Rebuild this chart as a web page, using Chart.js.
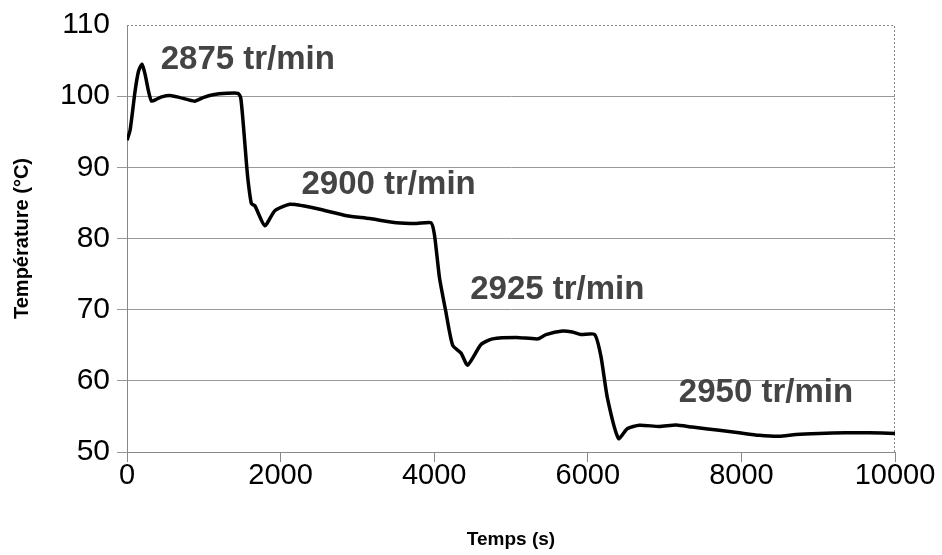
<!DOCTYPE html>
<html>
<head>
<meta charset="utf-8">
<script src="https://cdn.jsdelivr.net/npm/chart.js@4/dist/chart.umd.min.js"></script>
<style>
  html, body { margin: 0; padding: 0; background: #fff; }
</style>
</head>
<body>
<canvas id="chart" width="942" height="555"></canvas>
<script>
// Temps (s) and température (°C)
const times = [0, 40, 105, 150, 195, 235, 280, 320, 390, 450, 560, 690, 880, 990, 1120, 1300, 1445,
  1480, 1510, 1555, 1580, 1620, 1665, 1795, 1925, 2120, 2290, 2510, 2860, 3160, 3510, 3770, 3960,
  4005, 4070, 4150, 4240, 4350, 4435, 4610, 4760, 5070, 5350, 5455, 5670, 5800, 5910, 6090,
  6170, 6257, 6400, 6517, 6670, 6930, 7150, 7360, 7710, 7970, 8230, 8490, 8710, 9010, 9360, 9660, 10000];
const temps = [93.8, 95.2, 100.7, 103.5, 104.5, 103.1, 100.7, 99.3, 99.6, 99.9, 100.1, 99.8, 99.3, 99.8, 100.2, 100.4, 100.4,
  99.8, 96.6, 90.6, 87.8, 84.9, 84.6, 81.8, 83.9, 84.8, 84.6, 84.1, 83.2, 82.8, 82.2, 82.1, 82.2,
  80.4, 74.4, 69.8, 65.0, 63.9, 62.2, 65.1, 65.9, 66.1, 65.9, 66.5, 67.0, 66.85, 66.5, 66.5,
  63.5, 57.5, 51.9, 53.3, 53.75, 53.6, 53.8, 53.5, 53.05, 52.7, 52.35, 52.2, 52.45, 52.6, 52.7, 52.7, 52.6];

// speed annotations (text, anchor time, anchor temperature)
const speedLabels = ['2875 tr/min', '2900 tr/min', '2925 tr/min', '2950 tr/min'];
const speedLabelTimes = [1573, 3406, 5603, 8320];
const speedLabelTemps = [105.1, 87.6, 72.8, 58.3];

const FONT = '"Liberation Sans", Arial, sans-serif';

const speedLabelPlugin = {
  id: 'speedLabels',
  afterDatasetsDraw(chart) {
    const {ctx, scales: {x, y}} = chart;
    ctx.save();
    ctx.font = 'bold 33px ' + FONT;
    ctx.fillStyle = '#444';
    ctx.textAlign = 'center';
    ctx.textBaseline = 'middle';
    speedLabels.forEach((txt, i) => {
      ctx.fillText(txt, x.getPixelForValue(speedLabelTimes[i]), y.getPixelForValue(speedLabelTemps[i]));
    });
    ctx.restore();
  }
};

// dotted frame on top and right of the plot area
const framePlugin = {
  id: 'frame',
  beforeDatasetsDraw(chart) {
    const {ctx, chartArea: a} = chart;
    ctx.save();
    ctx.strokeStyle = '#888';
    ctx.lineWidth = 1;
    ctx.setLineDash([2, 2]);
    ctx.beginPath();
    ctx.moveTo(a.left, a.top + 0.5);
    ctx.lineTo(a.right - 0.5, a.top + 0.5);
    ctx.lineTo(a.right - 0.5, a.bottom);
    ctx.stroke();
    ctx.restore();
  }
};

new Chart(document.getElementById('chart'), {
  type: 'line',
  data: {
    datasets: [{
      data: times.map((t, i) => ({x: t, y: temps[i]})),
      borderColor: '#000',
      borderWidth: 3.5,
      pointRadius: 0,
      tension: 0.2,
      fill: false
    }]
  },
  options: {
    responsive: false,
    animation: false,
    layout: { padding: { top: 20, right: 47, left: 0, bottom: 0 } },
    plugins: { legend: { display: false }, tooltip: { enabled: false } },
    scales: {
      x: {
        type: 'linear',
        min: 0, max: 10000,
        afterFit: s => { s.height = 103; },
        ticks: { stepSize: 2000, color: '#000', font: { family: FONT, size: 29 }, padding: -3, maxRotation: 0,
          callback: v => String(v) },
        grid: { drawOnChartArea: false, drawTicks: true, tickLength: 10, color: '#888' },
        border: { color: '#888', width: 1 },
        title: { display: true, text: 'Temps (s)', color: '#000', font: { family: FONT, size: 19, weight: 'bold' }, padding: { top: 0, bottom: 4 } }
      },
      y: {
        min: 50, max: 110,
        afterFit: s => { s.width = 127; },
        ticks: { stepSize: 10, color: '#000', font: { family: FONT, size: 30 }, padding: 7 },
        grid: {
          tickLength: 10,
          color: ctx => ctx.tick && ctx.tick.value === 110 ? 'rgba(0,0,0,0)' : '#999'
        },
        border: { color: '#888', width: 1 },
        title: { display: true, text: 'Température (°C)', color: '#000', font: { family: FONT, size: 20, weight: 'bold' }, padding: { top: 10, bottom: 0 } }
      }
    }
  },
  plugins: [framePlugin, speedLabelPlugin]
});
</script>
</body>
</html>
